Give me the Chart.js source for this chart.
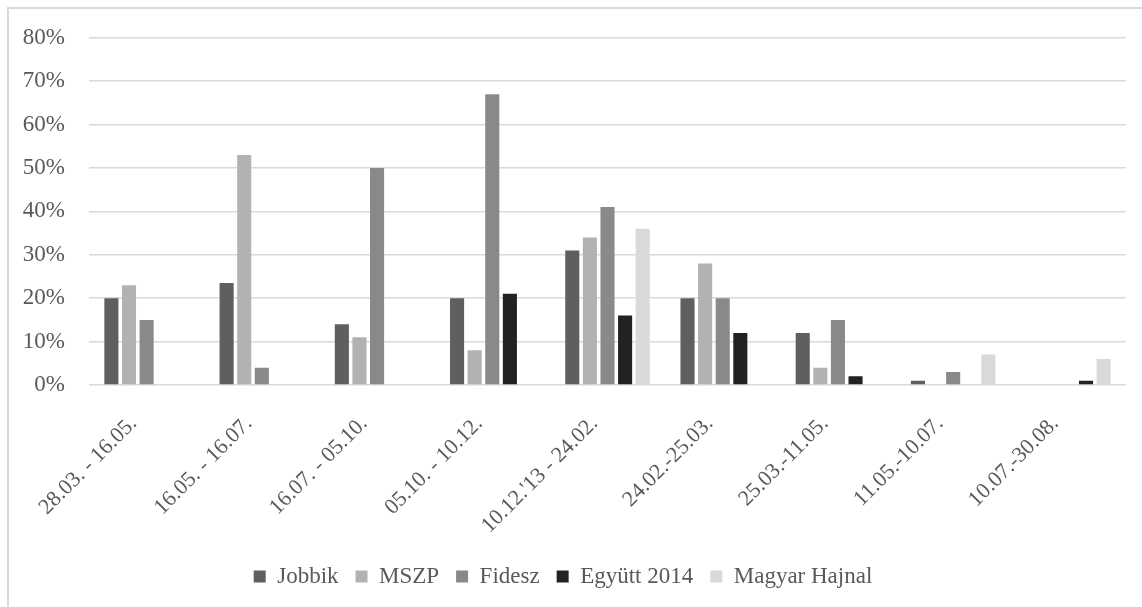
<!DOCTYPE html>
<html>
<head>
<meta charset="utf-8">
<script src="https://cdn.jsdelivr.net/npm/chart.js@4/dist/chart.umd.min.js"></script>
<style>
html,body{margin:0;padding:0;background:#fff;}
#wrap{position:relative;width:1142px;height:607px;}
#frame{position:absolute;left:7px;top:7px;width:1135px;height:600px;border-top:2px solid #d9d9d9;border-left:2px solid #d9d9d9;box-sizing:border-box;}
canvas{position:absolute;left:0;top:0;}
</style>
</head>
<body>
<div id="wrap"><div id="frame"></div><canvas id="c" width="1142" height="607"></canvas></div>
<script>
const categories = ["28.03. - 16.05.", "16.05. - 16.07.", "16.07. - 05.10.", "05.10. - 10.12.", "10.12.'13 - 24.02.", "24.02.-25.03.", "25.03.-11.05.", "11.05.-10.07.", "10.07.-30.08."];
const seriesNames = ["Jobbik", "MSZP", "Fidesz", "Együtt 2014", "Magyar Hajnal"];
const jobbik = [20, 23.5, 14, 20, 31, 20, 12, 1, null];
const mszp = [23, 53, 11, 8, 34, 28, 4, null, null];
const fidesz = [15, 4, 50, 67, 41, 20, 15, 3, null];
const egyutt = [null, null, null, 21, 16, 12, 2, null, 1];
const magyarHajnal = [null, null, null, null, 36, null, null, 7, 6];
const yTicks = [0, 10, 20, 30, 40, 50, 60, 70, 80];
const colors = ["#5f5f5f", "#b2b2b2", "#898989", "#222222", "#d9d9d9"];

const seriesValues = [jobbik, mszp, fidesz, egyutt, magyarHajnal];
const fontFam = "'Liberation Serif', 'Times New Roman', serif";

new Chart(document.getElementById('c'), {
  type: 'bar',
  data: {
    labels: categories,
    datasets: seriesNames.map((n, i) => ({
      label: n,
      data: seriesValues[i],
      backgroundColor: colors[i],
      borderWidth: 0,
      categoryPercentage: 0.764,
      barPercentage: 0.8
    }))
  },
  options: {
    responsive: false,
    animation: false,
    devicePixelRatio: 1,
    layout: { padding: { top: 37, right: 16, left: 0, bottom: 9 } },
    plugins: {
      tooltip: { enabled: false },
      legend: {
        position: 'bottom',
        labels: {
          boxWidth: 12, boxHeight: 12,
          padding: 17,
          color: '#595959',
          font: { family: fontFam, size: 23 }
        }
      }
    },
    scales: {
      x: {
        grid: { display: false, drawTicks: false },
        border: { display: false },
        ticks: {
          color: '#595959',
          font: { family: fontFam, size: 22 },
          maxRotation: 45, minRotation: 45,
          padding: 26,
          labelOffset: -13,
          autoSkip: false
        },
        afterFit: s => { s.height = 163; }
      },
      y: {
        min: 0, max: 80,
        afterBuildTicks: s => { s.ticks = yTicks.map(v => ({ value: v })); },
        grid: { color: '#d9d9d9', lineWidth: 1.5, drawTicks: false },
        border: { display: false },
        ticks: {
          color: '#595959',
          padding: 24,
          font: { family: fontFam, size: 23 },
          callback: v => v + '%'
        },
        afterFit: s => { s.width = 89; }
      }
    }
  }
});
</script>
</body>
</html>
